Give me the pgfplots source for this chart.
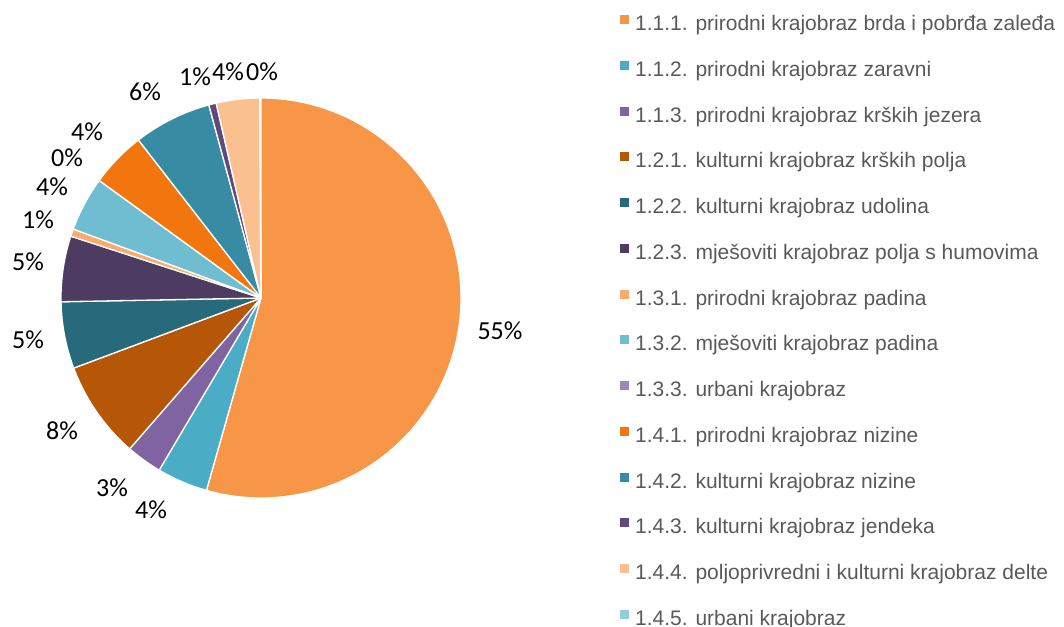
\documentclass[border=0pt]{standalone}
\usepackage{pgfplots}
\usepackage{pgfplotstable}
\pgfplotsset{compat=1.18}
\usepackage{fontspec}
\setmainfont{Liberation Sans}
\newfontfamily\calib{Carlito}
\definecolor{c0}{HTML}{F79646}
\definecolor{c1}{HTML}{4BACC6}
\definecolor{c2}{HTML}{8064A2}
\definecolor{c3}{HTML}{B65708}
\definecolor{c4}{HTML}{276A7C}
\definecolor{c5}{HTML}{4D3B62}
\definecolor{c6}{HTML}{F9AB6B}
\definecolor{c7}{HTML}{6FBDD1}
\definecolor{c8}{HTML}{9C87B8}
\definecolor{c9}{HTML}{F2760E}
\definecolor{c10}{HTML}{378CA4}
\definecolor{c11}{HTML}{5F4A7C}
\definecolor{c12}{HTML}{FAC090}
\definecolor{c13}{HTML}{93CDDD}
\definecolor{legtext}{HTML}{595959}

% share of each landscape type, percent
\pgfplotstableread{
v
54.4
4.1
2.9
7.9
5.4
5.3
0.6
4.4
0.0
4.5
6.3
0.6
3.5
0.0
}\piedata

% label positions and texts
\pgfplotstableread{
x y lab
500 295 55\%
151 116 4\%
112 138 3\%
62 195 8\%
28 286 5\%
28 364 5\%
38 406 1\%
52 439 4\%
67 468 0\%
87 494 4\%
145 534 6\%
195 549 1\%
228 554 4\%
262 554 0\%
}\labdata

\def\cum{0}
\pgfplotsforeachungrouped \i in {0,...,13}{%
  \pgfplotstablegetelem{\i}{v}\of\piedata
  \let\v\pgfplotsretval
  \pgfmathsetmacro\a{90-3.6*\cum}%
  \pgfmathsetmacro\cum{\cum+\v}%
  \pgfmathsetmacro\b{90-3.6*\cum}%
  \expandafter\xdef\csname sa\i\endcsname{\a}%
  \expandafter\xdef\csname sb\i\endcsname{\b}%
}

\begin{document}
\begin{tikzpicture}
\useasboundingbox (0,0) rectangle (1064pt,626pt);
\begin{axis}[
  at={(0,0)}, anchor=south west,
  width=1064pt, height=626pt, scale only axis,
  xmin=0, xmax=1064, ymin=0, ymax=626,
  hide axis, clip=false,
  legend cell align=left,
  legend style={
    at={(axis cs:620,611)}, anchor=north west,
    draw=none, fill=none, inner sep=0pt,
    font=\fontsize{21}{21}\selectfont, text=legtext,
    row sep=26.25pt,
    nodes={inner sep=0pt, text height=15pt, text depth=4pt},
    /tikz/every odd column/.style={column sep=6pt},
  },
  legend image code/.code={\fill[#1] (0pt,1pt) rectangle (9pt,10pt);},
]
\pgfplotsinvokeforeach{0,...,13}{
  \fill[c#1, draw=white, line width=1.3pt, line join=round]
    (axis cs:261,328) -- ++(\csname sa#1\endcsname:200pt)
    arc[start angle=\csname sa#1\endcsname, end angle=\csname sb#1\endcsname, radius=200pt] -- cycle;
}
\addplot[forget plot, only marks, mark=none,
  nodes near coords, point meta=explicit symbolic,
  nodes near coords align={center},
  every node near coord/.append style={font=\calib\fontsize{26}{26}\selectfont, text=black, inner sep=0pt}]
  table[x=x, y=y, meta=lab] {\labdata};

\addlegendimage{fill=c0, draw=none}\addlegendentry{1.1.1. prirodni krajobraz brda i pobrđa zaleđa}
\addlegendimage{fill=c1, draw=none}\addlegendentry{1.1.2. prirodni krajobraz zaravni}
\addlegendimage{fill=c2, draw=none}\addlegendentry{1.1.3. prirodni krajobraz krških jezera}
\addlegendimage{fill=c3, draw=none}\addlegendentry{1.2.1. kulturni krajobraz krških polja}
\addlegendimage{fill=c4, draw=none}\addlegendentry{1.2.2. kulturni krajobraz udolina}
\addlegendimage{fill=c5, draw=none}\addlegendentry{1.2.3. mješoviti krajobraz polja s humovima}
\addlegendimage{fill=c6, draw=none}\addlegendentry{1.3.1. prirodni krajobraz padina}
\addlegendimage{fill=c7, draw=none}\addlegendentry{1.3.2. mješoviti krajobraz padina}
\addlegendimage{fill=c8, draw=none}\addlegendentry{1.3.3. urbani krajobraz}
\addlegendimage{fill=c9, draw=none}\addlegendentry{1.4.1. prirodni krajobraz nizine}
\addlegendimage{fill=c10, draw=none}\addlegendentry{1.4.2. kulturni krajobraz nizine}
\addlegendimage{fill=c11, draw=none}\addlegendentry{1.4.3. kulturni krajobraz jendeka}
\addlegendimage{fill=c12, draw=none}\addlegendentry{1.4.4. poljoprivredni i kulturni krajobraz delte}
\addlegendimage{fill=c13, draw=none}\addlegendentry{1.4.5. urbani krajobraz}
\end{axis}
\end{tikzpicture}
\end{document}
